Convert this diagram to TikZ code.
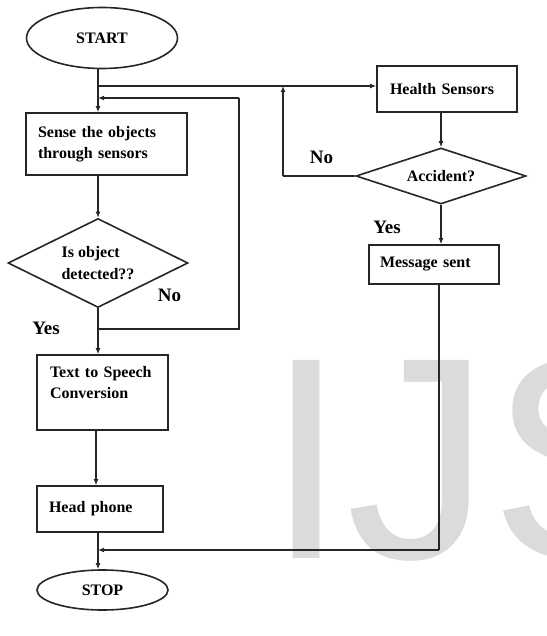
\documentclass[tikz,border=0pt]{standalone}
\usepackage{fontspec}
\setmainfont{Liberation Serif}
\newfontfamily\wmfont{Liberation Sans}
\usetikzlibrary{shapes.geometric,arrows.meta}
\begin{document}
\begin{tikzpicture}[x=1pt,y=-1pt,
  every node/.style={font=\fontsize{16}{21}\selectfont\bfseries},
  ln/.style={line width=1.6pt, draw=black!85},
  arr/.style={ln,-{Latex[length=6pt,width=5pt]}},
  box/.style={draw=black!85,line width=1.6pt,rectangle,align=left,inner ysep=0pt},
  term/.style={draw=black!85,line width=1.6pt,ellipse,inner sep=0pt},
  dec/.style={draw=black!85,line width=1.6pt,diamond,shape aspect=2,inner sep=0pt,align=left},
  lbl/.style={font=\fontsize{19}{22}\selectfont\bfseries,inner sep=0pt}
]
\useasboundingbox (0,0) rectangle (546,636);
\begin{scope}
\clip (0,0) rectangle (546,636);
\node[anchor=base west, inner sep=0pt, text=black!14, font=\fontsize{288}{288}\selectfont\wmfont] (wm) at (266,558) {IJS};
\end{scope}

% left column
\node[term, minimum width=151pt, minimum height=61pt] (start) at (102,38) {START};
\node[box, minimum height=62pt, text width=137pt, inner xsep=12pt] (sense) at (106.5,144) {Sense the objects\\through sensors};
\node[dec, minimum width=180pt, minimum height=89pt, font=\fontsize{16}{22}\selectfont\bfseries] (det) at (98,263) {Is object\\detected??};
\node[box, minimum height=75pt, text width=105pt, inner xsep=13pt] (tts) at (102.5,392.5) {Text to Speech\\Conversion\\\mbox{}};
\node[box, minimum height=46pt, text width=102pt, inner xsep=12pt] (hp) at (100,509) {Head phone};
\node[term, minimum width=131pt, minimum height=40pt] (stop) at (102.5,590) {STOP};

% right column
\node[box, minimum height=46pt, text width=114pt, inner xsep=13pt] (hs) at (447,89) {Health Sensors};
\node[dec, minimum width=170pt, minimum height=56pt] (acc) at (441,176) {Accident?};
\node[box, minimum height=39pt, text width=108pt, inner xsep=11pt] (msg) at (434,264.5) {Message sent};

% labels
\node[lbl] (no1) at (169.5,295) {No};
\node[lbl] (yes1) at (46,328) {Yes};
\node[lbl] (no2) at (321.5,157) {No};
\node[lbl] (yes2) at (387,227) {Yes};

% junction coordinates
\coordinate (j1) at (98,86);
\coordinate (j2) at (98,98);
\coordinate (j3) at (98,329);
\coordinate (r1) at (239,329);
\coordinate (r2) at (239,98);
\coordinate (a1) at (283,176);
\coordinate (a2) at (283,86);
\coordinate (m1) at (439,550);
\coordinate (j4) at (98,550);
\coordinate (x1) at (96,0);

% connectors
\draw[arr] (start.south -| j1) -- (sense.north -| j1);
\draw[arr] (j1) -- (j1 -| hs.west);
\draw[arr] (sense.south -| det.north) -- (det.north);
\draw[arr] (det.south) -- (det.south |- tts.north);
\draw[ln] (j3) -- (r1) -- (r2);
\draw[arr] (r2) -- (j2);
\draw[arr] (tts.south -| x1) -- (hp.north -| x1);
\draw[arr] (hp.south -| j4) -- (stop.north -| j4);
\draw[arr] (hs.south -| acc.north) -- (acc.north);
\draw[ln] (acc.west) -- (a1);
\draw[arr] (a1) -- (a2);
\draw[arr] (acc.south) -- (acc.south |- msg.north);
\draw[ln] (msg.south -| m1) -- (m1);
\draw[arr] (m1) -- (j4);
\end{tikzpicture}
\end{document}
